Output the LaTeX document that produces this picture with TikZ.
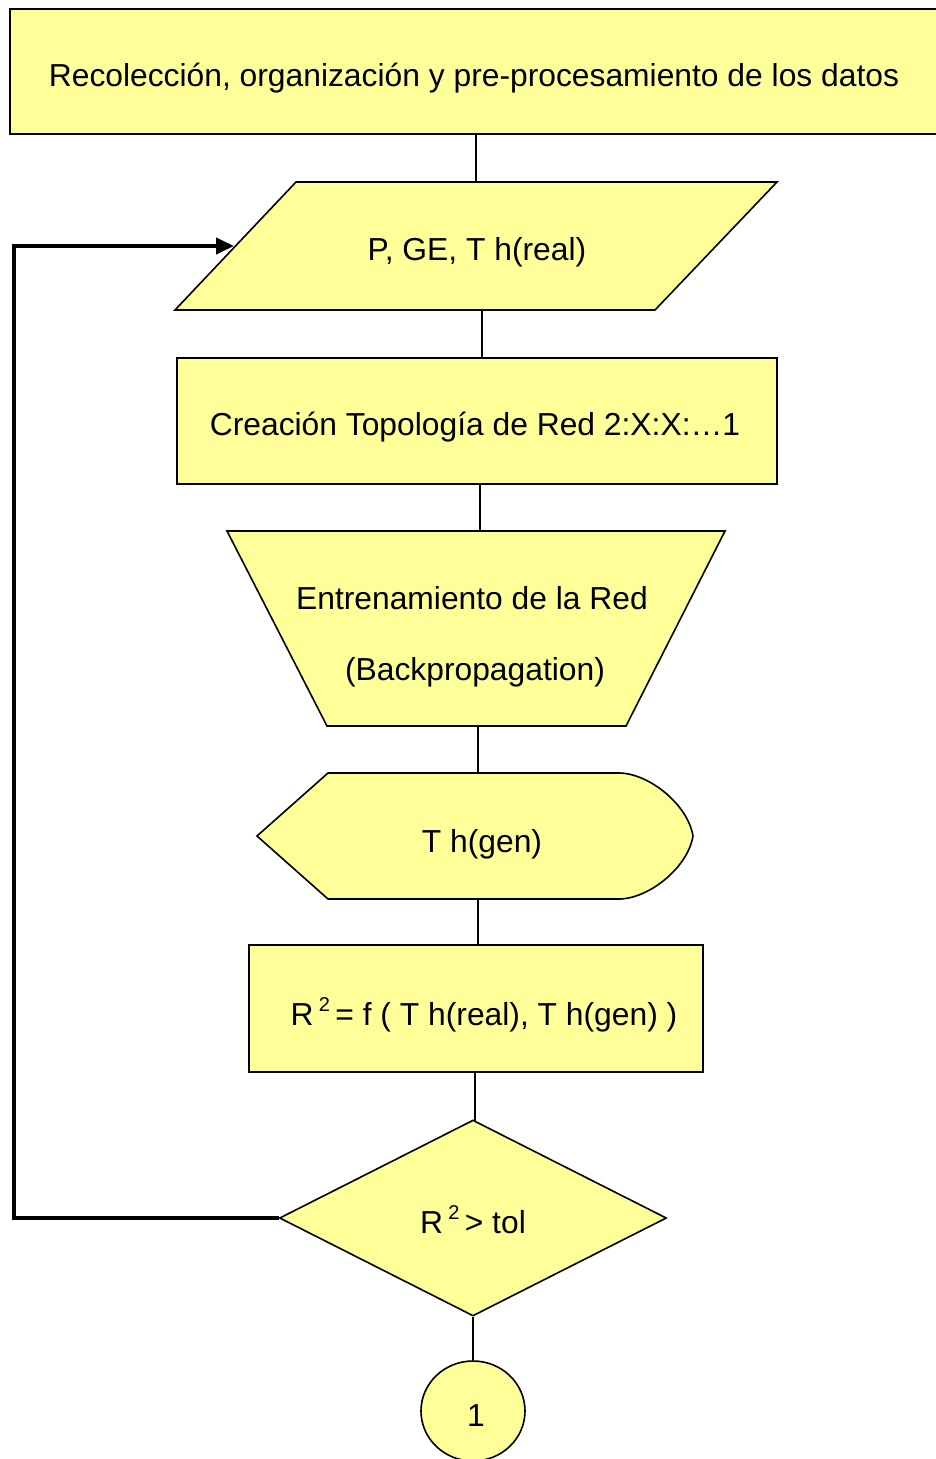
\documentclass[tikz,border=0pt]{standalone}
\usepackage{fontspec}
\setmainfont{Liberation Sans}
\usetikzlibrary{shapes.geometric,arrows.meta}
\definecolor{fillY}{HTML}{FFFF99}
\newcommand{\sqr}{\,\raisebox{0.42em}{\fontsize{20}{20}\selectfont 2}\,}
\begin{document}
\begin{tikzpicture}[x=1pt,y=-1pt,
  shp/.style={draw=black,line width=1.6pt,fill=fillY},
  lbl/.style={font=\fontsize{31.8}{36}\selectfont,inner sep=0pt,anchor=base},
  link/.style={line width=1.8pt},
  back/.style={line width=4pt,-{Triangle[length=18pt,width=16pt]}}]
\useasboundingbox (0,0) rectangle (935,1459);
% shapes
\node[shp,rectangle,minimum width=931pt,minimum height=125pt,anchor=north west,inner sep=0pt] (r1) at (9,8) {};
\draw[shp] (296,182) -- (777,182) -- (655,310) -- (175,310) -- cycle;
\node[shp,rectangle,minimum width=600pt,minimum height=126pt,anchor=north west,inner sep=0pt] (r2) at (176,357) {};
\draw[shp] (227,531) -- (725,531) -- (626,726) -- (327,726) -- cycle;
\draw[shp] (257,836) -- (328,773) -- (620,773) .. controls (650,774) and (688,805) .. (693,836) .. controls (688,867) and (650,898) .. (620,899) -- (328,899) -- cycle;
\node[shp,rectangle,minimum width=454pt,minimum height=127pt,anchor=north west,inner sep=0pt] (r3) at (248,944) {};
\node[shp,diamond,minimum width=387pt,minimum height=196pt,inner sep=0pt] (d) at (473,1218) {};
\node[shp,ellipse,minimum width=104pt,minimum height=100pt,inner sep=0pt] (c) at (473,1411) {};
% anchor coordinates
\coordinate (pTop) at (476,182);
\coordinate (pBot) at (482,310);
\coordinate (pLeft) at (234,246);
\coordinate (tTop) at (480,531);
\coordinate (tBot) at (478,726);
\coordinate (gTop) at (478,773);
\coordinate (gBot) at (478,899);
\coordinate (dTop) at (475,1121);
% labels
\node[lbl] (t1) at (474,86) {Recolección, organización y pre-procesamiento de los datos};
\node[lbl] (t2) at (477,260) {P, GE, T h(real)};
\node[lbl] (t3) at (475,435) {Creación Topología de Red 2:X:X:…1};
\node[lbl] (t4a) at (472,609) {Entrenamiento de la Red};
\node[lbl] (t4b) at (475,680) {(Backpropagation)};
\node[lbl] (t5) at (482,852) {T h(gen)};
\node[lbl] (t6) at (484,1025) {R\sqr = f ( T h(real), T h(gen) )};
\node[lbl] (t7) at (473,1233) {R\sqr > tol};
\node[lbl] (t8) at (476,1426) {1};
% connectors
\draw[link] (r1.south -| pTop) -- (pTop);
\draw[link] (pBot) -- (r2.north -| pBot);
\draw[link] (r2.south -| tTop) -- (tTop);
\draw[link] (tBot) -- (gTop);
\draw[link] (gBot) -- (r3.north -| gBot);
\draw[link] (r3.south -| dTop) -- (dTop);
\draw[link] (d.south) -- (c.north);
\draw[back] (d.west) -- (14,1218) -- (14,246) -- (pLeft);
\end{tikzpicture}
\end{document}
